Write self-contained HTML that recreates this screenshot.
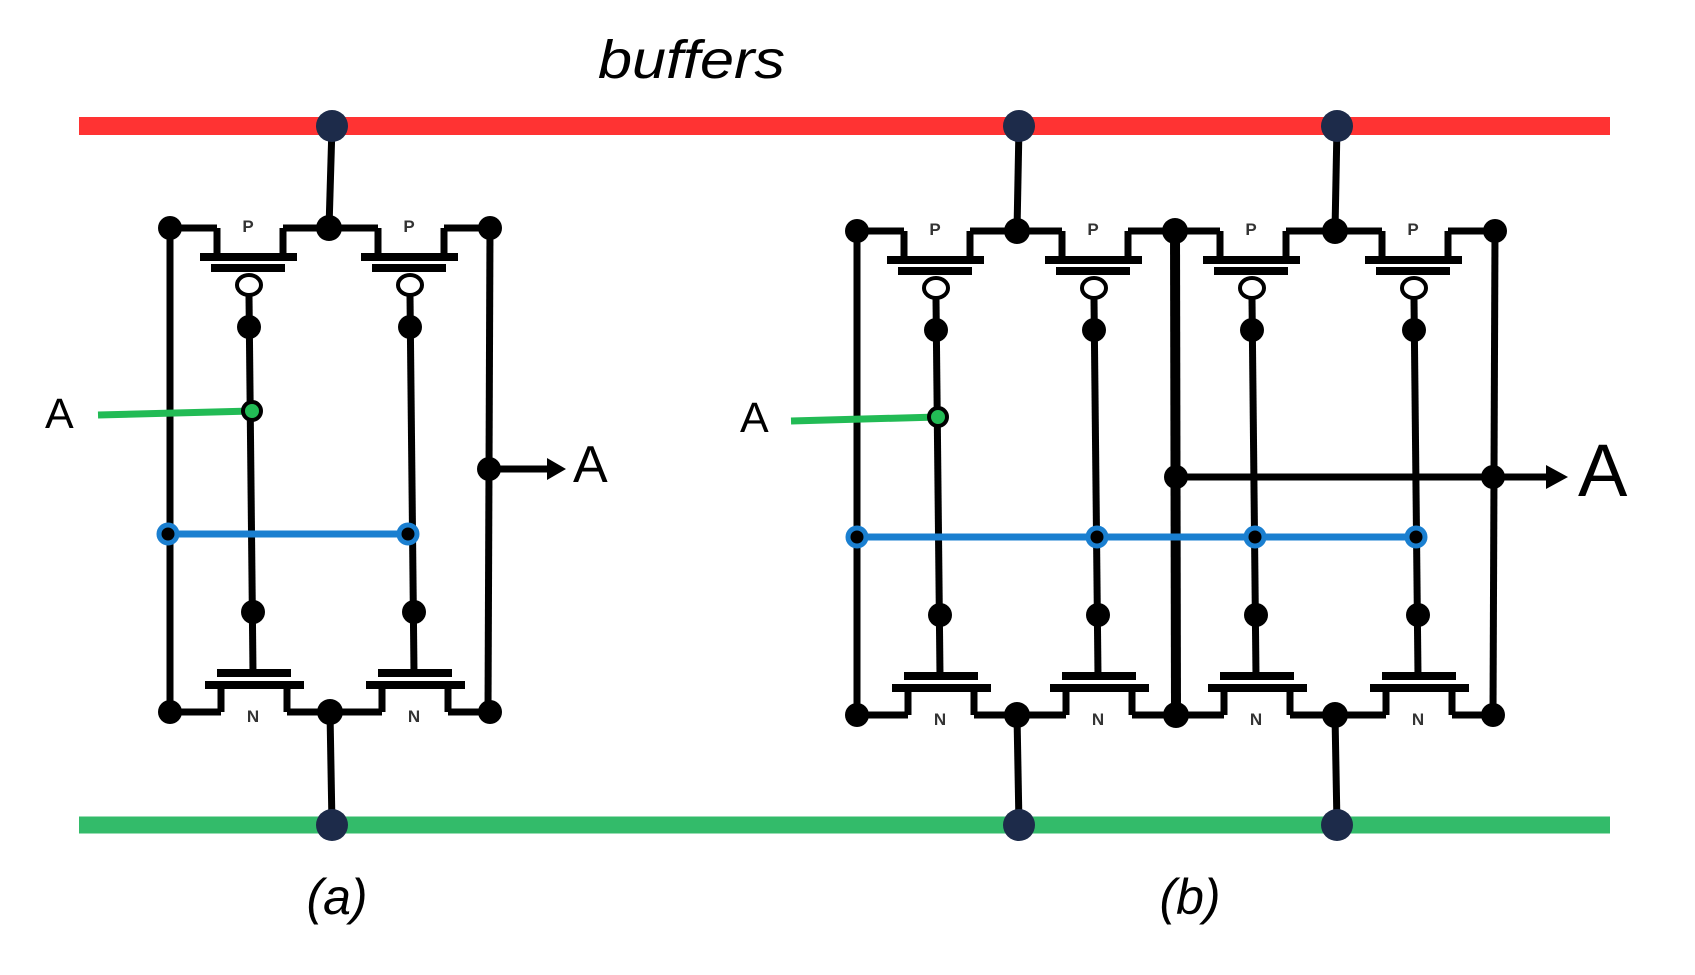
<!DOCTYPE html>
<html><head><meta charset="utf-8"><style>html,body{margin:0;padding:0;background:#fff}svg{display:block}</style></head>
<body>
<svg width="1695" height="975" viewBox="0 0 1695 975" xmlns="http://www.w3.org/2000/svg">
<defs>
<g id="col">
  <g fill="none" stroke="#000" stroke-width="7">
    <path d="M-32,228 V257 M34,257 V228"/>
    <path d="M-49,257 H48" stroke-width="8"/>
    <path d="M-38,268 H36" stroke-width="8"/>
    <path d="M0,296 L4,673"/>
    <path d="M-32,673 H42" stroke-width="8"/>
    <path d="M-44,685 H55" stroke-width="8"/>
    <path d="M-28,685 V712 M38,685 V712"/>
  </g>
  <ellipse cx="0" cy="285" rx="12" ry="10" fill="#fff" stroke="#000" stroke-width="4"/>
  <circle cx="0" cy="327" r="12" fill="#000"/>
  <circle cx="4" cy="612" r="12" fill="#000"/>
  <text x="-1" y="232" font-family="Liberation Sans, sans-serif" font-size="17" font-weight="bold" text-anchor="middle" fill="#333">P</text>
  <text x="4" y="722" font-family="Liberation Sans, sans-serif" font-size="17" font-weight="bold" text-anchor="middle" fill="#333">N</text>
</g>
</defs>

<line x1="79" y1="126" x2="1610" y2="126" stroke="#ff3333" stroke-width="18"/>
<line x1="79" y1="825" x2="1610" y2="825" stroke="#33bb6a" stroke-width="17"/>

<text x="598" y="78" font-family="Liberation Sans, sans-serif" font-style="italic" font-size="54" textLength="187" lengthAdjust="spacingAndGlyphs" fill="#000">buffers</text>

<!-- (a) -->
<g stroke="#000" stroke-width="7" fill="none">
  <line x1="332" y1="126" x2="329" y2="228"/>
  <line x1="330" y1="712" x2="332" y2="825"/>
  <path d="M170,228 H217 M283,228 H378 M444,228 H490"/>
  <path d="M170,712 H221 M287,712 H382 M448,712 H490"/>
  <line x1="170" y1="228" x2="170" y2="712"/>
  <line x1="490" y1="228" x2="488" y2="712"/>
</g>
<use href="#col" x="249" y="0"/>
<use href="#col" x="410" y="0"/>
<line x1="98" y1="415" x2="252" y2="411" stroke="#22bb55" stroke-width="7"/>
<line x1="168" y1="534" x2="408" y2="534" stroke="#1a7fd0" stroke-width="7"/>
<circle cx="252" cy="411" r="9" fill="#22bb55" stroke="#000" stroke-width="4"/>
<circle cx="168" cy="534" r="9" fill="#000" stroke="#1a7fd0" stroke-width="5"/>
<circle cx="408" cy="534" r="9" fill="#000" stroke="#1a7fd0" stroke-width="5"/>
<circle cx="170" cy="228" r="12"/><circle cx="329" cy="228" r="13"/><circle cx="490" cy="228" r="12"/>
<circle cx="170" cy="712" r="12"/><circle cx="330" cy="712" r="13"/><circle cx="490" cy="712" r="12"/>
<circle cx="489" cy="469" r="12"/>
<line x1="489" y1="469" x2="550" y2="469" stroke="#000" stroke-width="7"/>
<polygon points="547,458 566,469 547,480" fill="#000"/>
<text x="45" y="428" font-family="Liberation Sans, sans-serif" font-size="43" fill="#000">A</text>
<text x="573" y="482" font-family="Liberation Sans, sans-serif" font-size="52" fill="#000">A</text>
<circle cx="332" cy="126" r="16" fill="#1d2b4a"/>
<circle cx="332" cy="825" r="16" fill="#1d2b4a"/>
<text x="337" y="914" font-family="Liberation Sans, sans-serif" font-style="italic" font-size="50" text-anchor="middle" fill="#000">(a)</text>

<!-- (b) -->
<g stroke="#000" stroke-width="7" fill="none">
  <line x1="1019" y1="126" x2="1017" y2="231"/>
  <line x1="1337" y1="126" x2="1335" y2="231"/>
  <line x1="1017" y1="715" x2="1019" y2="825"/>
  <line x1="1335" y1="715" x2="1337" y2="825"/>
  <path d="M857,231 H904 M970,231 H1062 M1128,231 H1220 M1286,231 H1382 M1448,231 H1495"/>
  <path d="M857,715 H908 M974,715 H1066 M1132,715 H1224 M1290,715 H1386 M1452,715 H1495"/>
  <line x1="857" y1="231" x2="857" y2="715"/>
  <line x1="1175" y1="231" x2="1176" y2="715" stroke-width="10"/>
  <line x1="1495" y1="231" x2="1493" y2="715"/>
</g>
<use href="#col" x="936" y="3"/>
<use href="#col" x="1094" y="3"/>
<use href="#col" x="1252" y="3"/>
<use href="#col" x="1414" y="3"/>
<line x1="791" y1="421" x2="938" y2="417" stroke="#22bb55" stroke-width="7"/>
<line x1="857" y1="537" x2="1417" y2="537" stroke="#1a7fd0" stroke-width="7"/>
<circle cx="938" cy="417" r="9" fill="#22bb55" stroke="#000" stroke-width="4"/>
<circle cx="857" cy="537" r="9" fill="#000" stroke="#1a7fd0" stroke-width="5"/>
<circle cx="1097" cy="537" r="9" fill="#000" stroke="#1a7fd0" stroke-width="5"/>
<circle cx="1255" cy="537" r="9" fill="#000" stroke="#1a7fd0" stroke-width="5"/>
<circle cx="1416" cy="537" r="9" fill="#000" stroke="#1a7fd0" stroke-width="5"/>
<line x1="1176" y1="477" x2="1550" y2="477" stroke="#000" stroke-width="7"/>
<polygon points="1546,465 1568,477 1546,489" fill="#000"/>
<circle cx="1176" cy="477" r="12"/><circle cx="1493" cy="477" r="12"/>
<circle cx="857" cy="231" r="12"/><circle cx="1017" cy="231" r="13"/><circle cx="1175" cy="231" r="13"/><circle cx="1335" cy="231" r="13"/><circle cx="1495" cy="231" r="12"/>
<circle cx="857" cy="715" r="12"/><circle cx="1017" cy="715" r="13"/><circle cx="1176" cy="715" r="13"/><circle cx="1335" cy="715" r="13"/><circle cx="1493" cy="715" r="12"/>
<text x="740" y="432" font-family="Liberation Sans, sans-serif" font-size="43" fill="#000">A</text>
<text x="1578" y="496" font-family="Liberation Sans, sans-serif" font-size="74" fill="#000">A</text>
<circle cx="1019" cy="126" r="16" fill="#1d2b4a"/>
<circle cx="1337" cy="126" r="16" fill="#1d2b4a"/>
<circle cx="1019" cy="825" r="16" fill="#1d2b4a"/>
<circle cx="1337" cy="825" r="16" fill="#1d2b4a"/>
<text x="1190" y="914" font-family="Liberation Sans, sans-serif" font-style="italic" font-size="50" text-anchor="middle" fill="#000">(b)</text>
</svg>
</body></html>
